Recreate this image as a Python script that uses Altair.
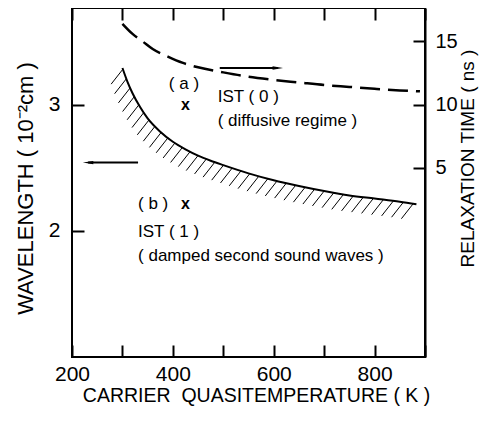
import altair as alt
import pandas as pd
import numpy as np

# ---------------- data ----------------
temp_solid = [300, 310, 320, 335, 350, 375, 400, 425, 450, 475, 500, 550, 600, 650, 700, 750, 800, 850, 883]
wavelength = [3.29, 3.18, 3.09, 2.98, 2.89, 2.785, 2.705, 2.645, 2.595, 2.555, 2.52, 2.455, 2.40, 2.355, 2.315, 2.28, 2.255, 2.23, 2.21]

temp_dash = [300, 320, 340, 360, 390, 420, 450, 500, 550, 600, 650, 700, 750, 800, 850, 890]
relax_time = [16.4, 15.6, 15.0, 14.4, 13.8, 13.3, 12.95, 12.55, 12.2, 11.95, 11.75, 11.55, 11.4, 11.25, 11.12, 11.05]

x_ticks = [200, 300, 400, 500, 600, 700, 800, 900]
left_ticks = [2, 3]
right_ticks = [5, 10, 15]

point_T = [425, 425]
point_W = [3.0, 2.21]

note_text = ["( a )", "IST ( 0 )", "( diffusive regime )", "( b )", "IST ( 1 )", "( damped second sound waves )"]
note_T = [392, 489, 489, 331, 331, 331]
note_W = [3.16, 3.063, 2.873, 2.214, 1.99, 1.80]

arrow_start_T = [331, 493]
arrow_tip_T = [222, 618]
arrow_W = [2.54, 3.29]
arrow_dir = ["left", "right"]

# ---------------- layout ----------------
X_MIN, X_MAX = 200, 900
Y_MIN, Y_MAX = 1.0, 3.765
R_MIN, R_MAX = -10.0, 17.65
W_PX, H_PX = 353, 349
kx = W_PX / (X_MAX - X_MIN)
ky = H_PX / (Y_MAX - Y_MIN)

FONT = "Liberation Sans"

xs = alt.Scale(domain=[X_MIN, X_MAX], nice=False, zero=False)
ys = alt.Scale(domain=[Y_MIN, Y_MAX], nice=False, zero=False)
rs = alt.Scale(domain=[R_MIN, R_MAX], nice=False, zero=False)

# ---------------- derived geometry: hatch along the solid curve ----------------
tx = np.linspace(temp_solid[0], temp_solid[-1], 3000)
wy = np.interp(tx, temp_solid, wavelength)
PX = (tx - X_MIN) * kx
PY = (Y_MAX - wy) * ky
s = 14 * PX + 11 * PY
svals = np.arange(s[0] + 20, s[-1] + 60, 154)
hx0 = np.interp(svals, s, PX)
hy0 = np.interp(svals, s, PY)
d = np.array([-11.0, 14.0]) / np.hypot(11, 14)
L = 19
hx1 = hx0 + L * d[0]
hy1 = hy0 + L * d[1]
hatch = pd.DataFrame({
    "T": hx0 / kx + X_MIN, "W": Y_MAX - hy0 / ky,
    "T2": hx1 / kx + X_MIN, "W2": Y_MAX - hy1 / ky,
})

solid_df = pd.DataFrame({"T": temp_solid, "W": wavelength})
dash_df = pd.DataFrame({"T": temp_dash, "R": relax_time})
pts_df = pd.DataFrame({"T": point_T, "W": point_W, "t": ["x", "x"]})
notes_df = pd.DataFrame({"T": note_T, "W": note_W, "t": note_text})

HEAD = 5.0  # px half-length of arrow head
head_T = [t + (HEAD / kx if dd == "left" else -HEAD / kx) for t, dd in zip(arrow_tip_T, arrow_dir)]
arrows_df = pd.DataFrame({"T": arrow_start_T, "T2": head_T, "W": arrow_W, "dir": arrow_dir})

path_left = "M-1,0L1,-0.32L1,0.32Z"
path_right = "M1,0L-1,-0.32L-1,0.32Z"

# ---------------- axes ----------------
x_bottom = alt.Axis(
    values=x_ticks, orient="bottom", offset=-12, tickSize=12, domain=False, grid=False,
    labelExpr="datum.value % 200 == 0 ? datum.label : ''", labelPadding=6, labelFontSize=21,
    title="CARRIER\u00a0 QUASITEMPERATURE ( K )", titlePadding=2, titleFontSize=19.5,
    titleX=184, labelFlush=False,
)
y_left = alt.Axis(
    values=left_ticks, orient="left", offset=-12, tickSize=12, domain=False, grid=False,
    labelPadding=12, labelFontSize=21, format="d",
    title="WAVELENGTH ( 10⁻²cm )", titlePadding=11, titleFontSize=22, titleY=180,
)
x_top = alt.Axis(values=x_ticks, orient="top", offset=-12, tickSize=12, domain=False, grid=False,
                 labels=False, title=None)
y_right = alt.Axis(
    values=right_ticks, orient="right", offset=-12, tickSize=12, domain=False, grid=False,
    labelPadding=10, labelFontSize=20, labelAlign="left",
    title="RELAXATION TIME ( ns )", titleAngle=270, titleBaseline="top", titlePadding=1,
    titleFontSize=19, titleY=150,
)
y_frame = alt.Axis(orient="right", domain=True, domainColor="black", domainWidth=2, ticks=False,
                   labels=False, grid=False, title=None)

# ---------------- layers ----------------
solid = alt.Chart(solid_df).mark_line(color="black", strokeWidth=2, interpolate="monotone").encode(
    x=alt.X("T:Q", scale=xs, axis=x_bottom),
    y=alt.Y("W:Q", scale=ys, axis=y_left),
)

dashed = alt.Chart(dash_df).mark_line(color="black", strokeWidth=2.5, strokeDash=[20, 8],
                                      interpolate="monotone").encode(
    x=alt.X("T:Q", scale=xs, axis=x_top),
    y=alt.Y("R:Q", scale=rs, axis=y_right),
)

hatch_layer = alt.Chart(hatch).mark_rule(color="black", strokeWidth=1).encode(
    x=alt.X("T:Q", scale=xs, axis=None), x2="T2:Q",
    y=alt.Y("W:Q", scale=ys, axis=y_frame), y2="W2:Q",
)

arrow_lines = alt.Chart(arrows_df).mark_rule(color="black", strokeWidth=2).encode(
    x=alt.X("T:Q", scale=xs, axis=None), x2="T2:Q",
    y=alt.Y("W:Q", scale=ys, axis=None),
)
arrow_heads = alt.Chart(arrows_df).mark_point(filled=True, color="black", opacity=1, size=110).encode(
    x=alt.X("T2:Q", scale=xs, axis=None),
    y=alt.Y("W:Q", scale=ys, axis=None),
    shape=alt.Shape("dir:N", scale=alt.Scale(domain=["left", "right"], range=[path_left, path_right]), legend=None),
)

marks_x = alt.Chart(pts_df).mark_text(font=FONT, fontSize=16, fontWeight="bold", color="black",
                                      align="center", baseline="middle").encode(
    x=alt.X("T:Q", scale=xs, axis=None),
    y=alt.Y("W:Q", scale=ys, axis=None),
    text="t:N",
)

notes = alt.Chart(notes_df).mark_text(font=FONT, fontSize=17, color="black",
                                      align="left", baseline="middle").encode(
    x=alt.X("T:Q", scale=xs, axis=None),
    y=alt.Y("W:Q", scale=ys, axis=None),
    text="t:N",
)

chart = alt.layer(solid, dashed, hatch_layer, arrow_lines, arrow_heads, marks_x, notes).resolve_scale(
    y="independent"
).resolve_axis(
    x="independent", y="independent"
).properties(
    width=W_PX, height=H_PX,
    autosize=alt.AutoSizeParams(type="none"),
    padding={"left": 64, "top": 0, "right": 54, "bottom": 51},
).configure_axis(
    labelFont=FONT, titleFont=FONT, labelColor="black", titleColor="black",
    tickColor="black", tickWidth=2, titleFontWeight="normal",
).configure_view(stroke="black", strokeWidth=2)

chart.save("out.html", embed_options={"renderer": "svg", "actions": False})
